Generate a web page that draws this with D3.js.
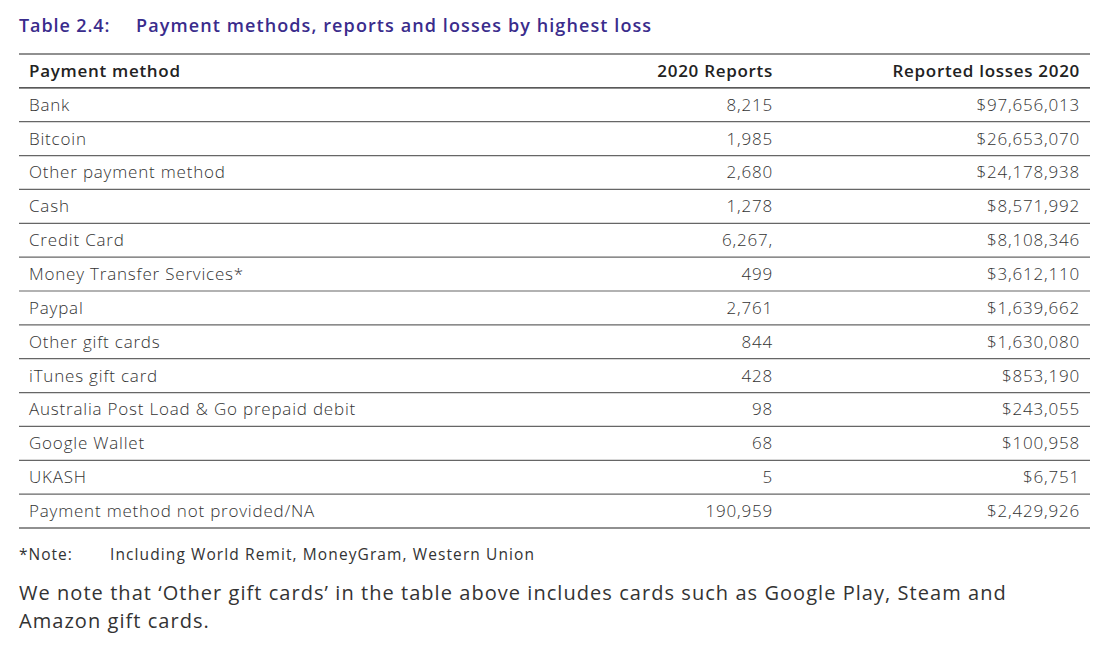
<!DOCTYPE html><html><head><meta charset="utf-8">
<script src="https://cdn.jsdelivr.net/npm/d3@7"></script>
<style>body{margin:0;background:#fff}</style></head><body>
<svg id="c" width="1109" height="647"></svg>
<script>
const methods=["Bank","Bitcoin","Other payment method","Cash","Credit Card","Money Transfer Services*","Paypal","Other gift cards","iTunes gift card","Australia Post Load & Go prepaid debit","Google Wallet","UKASH","Payment method not provided/NA"];
const reports=["8,215","1,985","2,680","1,278","6,267,","499","2,761","844","428","98","68","5","190,959"];
const losses=["$97,656,013","$26,653,070","$24,178,938","$8,571,992","$8,108,346","$3,612,110","$1,639,662","$1,630,080","$853,190","$243,055","$100,958","$6,751","$2,429,926"];
const headers=["Payment method","2020 Reports","Reported losses 2020"];
const svg=d3.select("#c");const F="'Open Sans', sans-serif";
svg.append("text").attr("x",19).attr("y",32).attr("font-family",F).attr("font-weight",600).attr("font-size",18).attr("letter-spacing",0.9).attr("fill","#3a2c8c").text("Table 2.4:");
svg.append("text").attr("x",136).attr("y",32).attr("font-family",F).attr("font-weight",600).attr("font-size",18).attr("letter-spacing",1.1).attr("fill","#3a2c8c").text("Payment methods, reports and losses by highest loss");
const y=d3.scaleBand().domain(d3.range(-1,methods.length)).range([54,528]);
const L=19,R=1090;
svg.append("line").attr("x1",L).attr("x2",R).attr("y1",54).attr("y2",54).attr("stroke","#222").attr("stroke-width",1.2);
const hy=y(-1)+y.bandwidth()/2+6;
[[29,"start"],[773,"end"],[1080,"end"]].forEach(([x,a],i)=>svg.append("text").attr("x",x).attr("y",hy).attr("text-anchor",a).attr("font-family",F).attr("font-weight",600).attr("font-size",17).attr("letter-spacing",0.7).attr("fill","#222").text(headers[i]));
const rows=svg.selectAll("g.r").data(methods.map((m,i)=>({m,r:reports[i],l:losses[i],i}))).join("g").attr("transform",d=>`translate(0,${y(d.i)})`);
svg.selectAll("line.s").data(d3.range(-1,methods.length)).join("line").attr("x1",L).attr("x2",R).attr("y1",d=>y(d)+y.bandwidth()).attr("y2",d=>y(d)+y.bandwidth()).attr("stroke",d=>d===-1||d===methods.length-1?"#222":"#666").attr("stroke-width",1.2);
const by=y.bandwidth()/2+6;
rows.append("text").attr("x",29).attr("y",by).text(d=>d.m);
rows.append("text").attr("x",773).attr("y",by).attr("text-anchor","end").text(d=>d.r);
rows.append("text").attr("x",1080).attr("y",by).attr("text-anchor","end").text(d=>d.l);
rows.selectAll("text").attr("font-family",F).attr("font-weight",300).attr("font-size",17).attr("letter-spacing",0.8).attr("fill","#333");
svg.append("text").attr("x",19).attr("y",560).attr("font-family",F).attr("font-size",15.5).attr("letter-spacing",1).attr("fill","#333").text("*Note:");
svg.append("text").attr("x",110).attr("y",560).attr("font-family",F).attr("font-size",15.5).attr("letter-spacing",1.1).attr("fill","#333").text("Including World Remit, MoneyGram, Western Union");
svg.append("text").attr("x",19).attr("y",600).attr("font-family",F).attr("font-size",20).attr("letter-spacing",1.05).attr("fill","#333").text("We note that ‘Other gift cards’ in the table above includes cards such as Google Play, Steam and");
svg.append("text").attr("x",19).attr("y",628).attr("font-family",F).attr("font-size",20).attr("letter-spacing",1.05).attr("fill","#333").text("Amazon gift cards.");
</script></body></html>
